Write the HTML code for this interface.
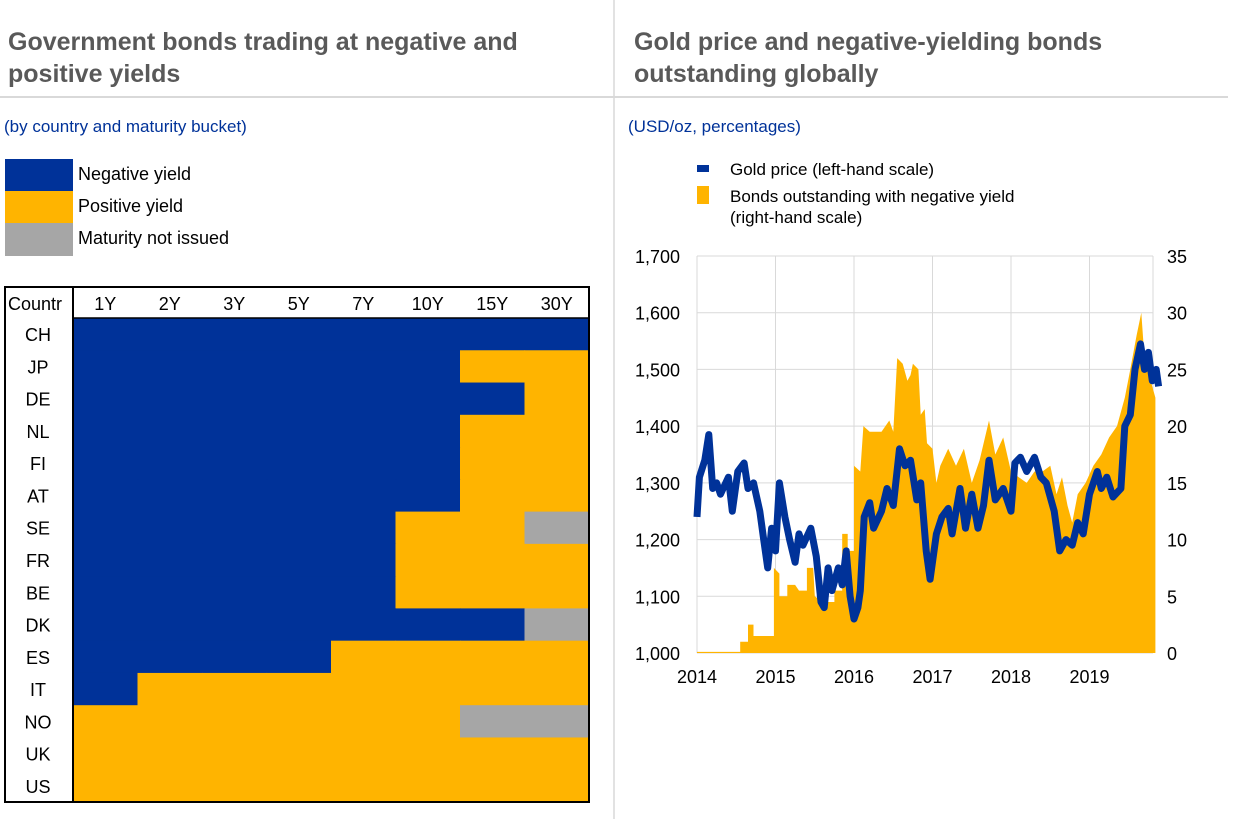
<!DOCTYPE html>
<html><head><meta charset="utf-8"><style>
body{margin:0;background:#fff;width:1240px;height:819px;overflow:hidden;font-family:"Liberation Sans",sans-serif}
</style></head><body>
<svg id="s" width="1240" height="819" xmlns="http://www.w3.org/2000/svg" font-family="Liberation Sans, sans-serif">
<line x1="614" y1="0" x2="614" y2="819" stroke="#d9d9d9" stroke-width="1.5"/>
<line x1="0" y1="97" x2="1228" y2="97" stroke="#d9d9d9" stroke-width="2"/>
<g font-size="25" font-weight="bold" fill="#595959">
<text x="8" y="50">Government bonds trading at negative and</text>
<text x="8" y="82">positive yields</text>
<text x="634" y="50">Gold price and negative-yielding bonds</text>
<text x="634" y="82">outstanding globally</text>
</g>
<g font-size="17" fill="#003299">
<text x="4" y="132">(by country and maturity bucket)</text>
<text x="628" y="132">(USD/oz, percentages)</text>
</g>
<rect x="5" y="159" width="68" height="32" fill="#003299"/>
<rect x="5" y="191" width="68" height="32" fill="#FFB400"/>
<rect x="5" y="223" width="68" height="33" fill="#A6A6A6"/>
<g font-size="18" fill="#000">
<text x="78" y="180">Negative yield</text>
<text x="78" y="212">Positive yield</text>
<text x="78" y="244">Maturity not issued</text>
</g>
<g id="heat"></g>
<rect x="5" y="287" width="584" height="515" fill="none" stroke="#000" stroke-width="2"/>
<line x1="73" y1="287" x2="73" y2="802" stroke="#000" stroke-width="2"/>
<line x1="73" y1="318" x2="589" y2="318" stroke="#000" stroke-width="1.5"/>
<g id="chart"></g>
<rect x="697" y="165" width="12" height="7" fill="#003299"/>
<rect x="697" y="186" width="12" height="18" fill="#FFB400"/>
<g font-size="17" fill="#000">
<text x="730" y="175">Gold price (left-hand scale)</text>
<text x="730" y="202">Bonds outstanding with negative yield</text>
<text x="730" y="223">(right-hand scale)</text>
</g>
</svg>
<script>
const NS="http://www.w3.org/2000/svg";
function el(p,t,a,txt){const e=document.createElementNS(NS,t);for(const k in a)e.setAttribute(k,a[k]);if(txt!==undefined)e.textContent=txt;p.appendChild(e);return e;}
const B="#003299",Y="#FFB400",G="#A6A6A6";
const rows=[["CH","BBBBBBBB"],["JP","BBBBBBYY"],["DE","BBBBBBBY"],["NL","BBBBBBYY"],["FI","BBBBBBYY"],["AT","BBBBBBYY"],["SE","BBBBBYYG"],["FR","BBBBBYYY"],["BE","BBBBBYYY"],["DK","BBBBBBBG"],["ES","BBBBYYYY"],["IT","BYYYYYYY"],["NO","YYYYYYGG"],["UK","YYYYYYYY"],["US","YYYYYYYY"]];
const h=document.getElementById("heat");const cw=(589-73)/8,rh=(802-318)/15;
const cols=["1Y","2Y","3Y","5Y","7Y","10Y","15Y","30Y"];
el(h,"text",{x:8,y:310,"font-size":18},"Countr");
cols.forEach((c,i)=>el(h,"text",{x:73+cw*i+cw/2,y:310,"font-size":18,"text-anchor":"middle"},c));
rows.forEach((r,j)=>{const y=318+rh*j;el(h,"text",{x:38,y:y+rh/2+7,"font-size":18,"text-anchor":"middle"},r[0]);
for(let i=0;i<8;i++){const c=r[1][i];el(h,"rect",{x:73+cw*i,y:y,width:cw+0.6,height:rh+0.6,fill:c=="B"?B:c=="Y"?Y:G});}});
const g=document.getElementById("chart");
const X0=697,X1=1153,YT=256,YB=653,yr=78.5;
const xf=t=>X0+(t-2014)*yr, pl=p=>YB-(p-1000)*(YB-YT)/700, pr=v=>YB-v*(YB-YT)/35;
for(let i=0;i<=7;i++){const y=YT+i*(YB-YT)/7;el(g,"line",{x1:X0,x2:X1,y1:y,y2:y,stroke:"#d9d9d9","stroke-width":1});
el(g,"text",{x:680,y:y+7,"font-size":18,"text-anchor":"end"},(1700-100*i).toLocaleString("en-US"));
el(g,"text",{x:1167,y:y+7,"font-size":18},String(35-5*i));}
for(let k=0;k<=5;k++){const x=xf(2014+k);if(k>0)el(g,"line",{x1:x,x2:x,y1:YT,y2:YB,stroke:"#d9d9d9","stroke-width":1});
el(g,"text",{x:x,y:683,"font-size":18,"text-anchor":"middle"},String(2014+k));}
el(g,"line",{x1:X1,x2:X1,y1:YT,y2:YB,stroke:"#d9d9d9"});
el(g,"line",{x1:X0,x2:X0,y1:YT,y2:YB,stroke:"#d9d9d9"});
const A=[[2014,0.1],[2014.55,0.1],[2014.55,1],[2014.65,1],[2014.65,2.5],[2014.72,2.5],[2014.72,1.5],[2014.98,1.5],[2014.98,7.5],[2015.05,7],[2015.05,5],[2015.15,5],[2015.15,6],[2015.25,6],[2015.3,5.5],[2015.4,5.5],[2015.4,7.5],[2015.48,7.5],[2015.5,5],[2015.6,4.5],[2015.75,4.5],[2015.75,5.5],[2015.85,5.5],[2015.85,10.5],[2015.92,10.5],[2015.92,9],[2016,9],[2016,16.5],[2016.08,16],[2016.12,20],[2016.2,19.5],[2016.35,19.5],[2016.45,20.5],[2016.5,19.5],[2016.55,26],[2016.62,25.5],[2016.68,24],[2016.72,24.5],[2016.75,25.5],[2016.82,25],[2016.85,21],[2016.9,21.5],[2016.93,18.5],[2017,18],[2017.05,15],[2017.1,16.5],[2017.2,18],[2017.3,16.5],[2017.4,18],[2017.5,15],[2017.6,17],[2017.72,20.5],[2017.8,17.5],[2017.9,19],[2018.0,16],[2018.1,15.5],[2018.2,15],[2018.3,16],[2018.4,16],[2018.5,16.5],[2018.58,14],[2018.65,15.5],[2018.72,13],[2018.78,11.5],[2018.85,14],[2018.95,15],[2019.05,16.5],[2019.15,17.5],[2019.25,19],[2019.35,20],[2019.45,22.5],[2019.52,25],[2019.6,28],[2019.66,30],[2019.7,26],[2019.78,24],[2019.84,22.5],[2019.84,0]];
let d="M"+xf(2014)+","+pr(0);A.forEach(p=>d+=" L"+xf(p[0]).toFixed(1)+","+pr(p[1]).toFixed(1));d+=" Z";
el(g,"path",{d:d,fill:Y});
const Gd=[[2014,1240],[2014.03,1310],[2014.1,1340],[2014.15,1385],[2014.2,1290],[2014.25,1300],[2014.3,1280],[2014.4,1310],[2014.45,1250],[2014.52,1320],[2014.6,1335],[2014.65,1290],[2014.72,1300],[2014.8,1250],[2014.85,1200],[2014.9,1150],[2014.95,1220],[2015,1180],[2015.05,1300],[2015.12,1240],[2015.18,1200],[2015.25,1160],[2015.3,1210],[2015.35,1190],[2015.45,1220],[2015.52,1170],[2015.58,1090],[2015.62,1080],[2015.67,1150],[2015.72,1110],[2015.8,1150],[2015.85,1120],[2015.9,1180],[2015.95,1100],[2016.0,1060],[2016.05,1080],[2016.08,1110],[2016.13,1240],[2016.2,1265],[2016.25,1220],[2016.35,1250],[2016.42,1290],[2016.5,1260],[2016.58,1360],[2016.65,1330],[2016.72,1340],[2016.8,1270],[2016.85,1300],[2016.92,1180],[2016.97,1130],[2017.05,1210],[2017.12,1240],[2017.2,1255],[2017.25,1210],[2017.35,1290],[2017.42,1220],[2017.5,1280],[2017.58,1220],[2017.65,1260],[2017.72,1340],[2017.8,1270],[2017.9,1290],[2018.0,1250],[2018.05,1335],[2018.12,1345],[2018.2,1320],[2018.3,1345],[2018.38,1310],[2018.45,1300],[2018.55,1250],[2018.62,1180],[2018.7,1200],[2018.78,1190],[2018.85,1230],[2018.92,1210],[2019.0,1280],[2019.1,1320],[2019.15,1290],[2019.22,1310],[2019.3,1275],[2019.4,1290],[2019.45,1400],[2019.52,1420],[2019.58,1500],[2019.65,1545],[2019.7,1500],[2019.75,1530],[2019.8,1480],[2019.85,1500],[2019.88,1470]];
el(g,"polyline",{points:Gd.map(p=>xf(p[0]).toFixed(1)+","+pl(p[1]).toFixed(1)).join(" "),fill:"none",stroke:B,"stroke-width":7,"stroke-linejoin":"round"});
</script>
</body></html>
